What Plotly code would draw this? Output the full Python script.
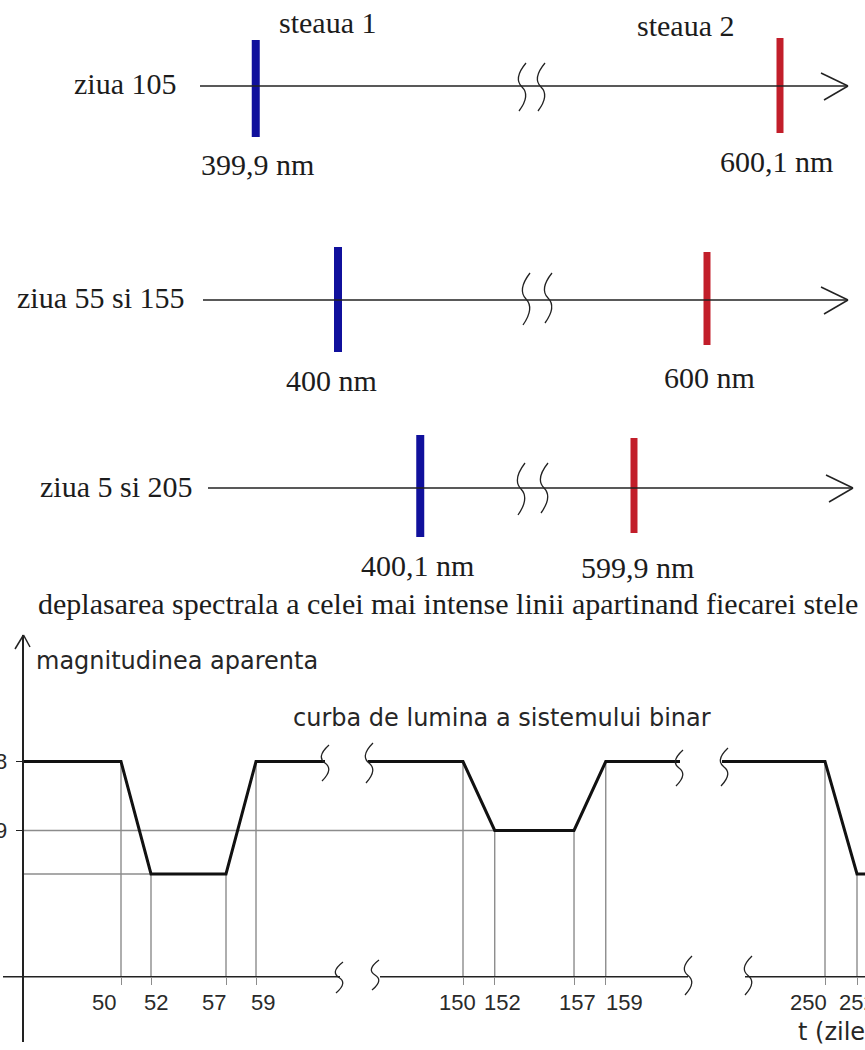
import plotly.graph_objects as go

W, H = 865, 1050

# ---------------- data ----------------
row_labels = ["ziua 105", "ziua 55 si 155", "ziua 5 si 205"]
star_names = ["steaua 1", "steaua 2"]
star1_nm = [399.9, 400.0, 400.1]
star2_nm = [600.1, 600.0, 599.9]
star1_text = ["399,9 nm", "400 nm", "400,1 nm"]
star2_text = ["600,1 nm", "600 nm", "599,9 nm"]
caption = "deplasarea spectrala a celei mai intense linii apartinand fiecarei stele"

t_days = [0, 50, 52, 57, 59, 150, 152, 157, 159, 250, 252, 257, 259, 300]
magnitude = [8.0, 8.0, 9.63, 9.63, 8.0, 8.0, 9.0, 9.0, 8.0, 8.0, 9.63, 9.63, 8.0, 8.0]
tick_days = [50, 52, 57, 59, 150, 152, 157, 159, 250, 252]
tick_text = ["50", "52", "57", "59", "150", "152", "157", "159", "250", "252"]
mag_ticks = [8, 9]
mag_tick_text = ["8", "9"]
y_title = "magnitudinea aparenta"
curve_title = "curba de lumina a sistemului binar"
x_title = "t (zile)"

# ---------------- layout constants (pixels of the reference) ----------------
def PX(x):
    return x / W


def PY(y):
    return 1 - y / H


SERIF = dict(family="Liberation Serif, Times New Roman, serif", size=30, color="#1c1c1c")
SANS = dict(family="DejaVu Sans, sans-serif", size=24, color="#262626")
SANS_NUM = dict(family="Liberation Sans, Arial, sans-serif", size=22, color="#2a2a2a")
BLUE = "#10109c"
RED = "#c21e2a"
INK = "#222222"
GUIDE = "#8c8c8c"

# top spectral panel: broken wavelength axis (two linear pieces)
BLUE_AX = dict(dom=(0, 540), scale=822.5, ref=(400.0, 338))
RED_AX = dict(dom=(540, 865), scale=730.0, ref=(600.0, 707))
TOP_DOM = (0, 620)
ROW_Y = [86, 300, 488]
ROW_X0 = [200, 203, 208]
ROW_TIP = [848, 848, 853]
BLUE_SPAN = [(40, 137), (247, 352), (435, 537)]
RED_SPAN = [(38, 133), (252, 345), (438, 533)]

# bottom light curve: broken time axis (three linear pieces)
SEGS = [
    dict(dom=(23.5, 325), scale=15.0, ref=(50, 121)),
    dict(dom=(368, 680), scale=15.86, ref=(150, 463)),
    dict(dom=(722, 865), scale=16.0, ref=(250, 825)),
]
MAG_DOM = (635, 1042)
MAG_REF = (8.0, 761.5)
MAG_SCALE = 69.0
AXIS_PY = 976.7
TICKLABEL_PY = 1002
# horizontal nudges of the hand-placed day labels (px)
TICKLABEL_SHIFT = [-17, 5, -12, 7, -6, 8, 3, 19, -17, 0]


def lin_range(d):
    v, p = d["ref"]
    return [v + (d["dom"][0] - p) / d["scale"], v + (d["dom"][1] - p) / d["scale"]]


def mag_at_py(y):
    return MAG_REF[0] + (y - MAG_REF[1]) / MAG_SCALE


AXIS_MAG = mag_at_py(AXIS_PY)


def seg_of(day):
    for i, s in enumerate(SEGS):
        r = lin_range(s)
        if r[0] <= day <= r[1]:
            return i
    return None


def day_to_paper(day):
    s = SEGS[seg_of(day)]
    r = lin_range(s)
    f = (day - r[0]) / (r[1] - r[0])
    return PX(s["dom"][0] + f * (s["dom"][1] - s["dom"][0]))


fig = go.Figure()

# ---------------- top: spectral lines ----------------
bx, by, rx, ry = [], [], [], []
for i in range(3):
    bx += [star1_nm[i], star1_nm[i], None]
    by += [BLUE_SPAN[i][0], BLUE_SPAN[i][1], None]
    rx += [star2_nm[i], star2_nm[i], None]
    ry += [RED_SPAN[i][0], RED_SPAN[i][1], None]

fig.add_trace(go.Scatter(x=bx, y=by, mode="lines", line=dict(color=BLUE, width=8),
                         xaxis="x", yaxis="y", hoverinfo="skip", showlegend=False))
fig.add_trace(go.Scatter(x=rx, y=ry, mode="lines", line=dict(color=RED, width=7),
                         xaxis="x2", yaxis="y", hoverinfo="skip", showlegend=False))

# ---------------- bottom: light curve ----------------
mag_of = dict(zip(t_days, magnitude))
axes_names = ["x3", "x4", "x5"]
for k, ax in enumerate(axes_names):
    gx, gy = [], []
    for d in tick_days:
        if seg_of(d) == k:
            gx += [d, d, None]
            gy += [mag_of[d], AXIS_MAG, None]
    fig.add_trace(go.Scatter(x=gx, y=gy, mode="lines", line=dict(color=GUIDE, width=1.4),
                             xaxis=ax, yaxis="y2", hoverinfo="skip", showlegend=False))

for k, ax in enumerate(axes_names):
    fig.add_trace(go.Scatter(x=t_days, y=magnitude, mode="lines",
                             line=dict(color="#111111", width=3),
                             xaxis=ax, yaxis="y2", hoverinfo="skip", showlegend=False))

# ---------------- axes ----------------
hidden = dict(visible=False, showgrid=False, zeroline=False, fixedrange=True, automargin=False)
fig.update_layout(
    xaxis=dict(domain=[PX(BLUE_AX["dom"][0]), PX(BLUE_AX["dom"][1])], range=lin_range(BLUE_AX),
               anchor="y", **hidden),
    xaxis2=dict(domain=[PX(RED_AX["dom"][0]), PX(RED_AX["dom"][1])], range=lin_range(RED_AX),
                anchor="y", **hidden),
    yaxis=dict(domain=[PY(TOP_DOM[1]), PY(TOP_DOM[0])], range=[TOP_DOM[1], TOP_DOM[0]],
               anchor="x", **hidden),
    yaxis2=dict(domain=[PY(MAG_DOM[1]), PY(MAG_DOM[0])],
                range=[mag_at_py(MAG_DOM[1]), mag_at_py(MAG_DOM[0])],
                anchor="x3", showline=True, linecolor=INK, linewidth=1.5,
                showgrid=False, zeroline=False, ticks="outside", ticklen=6, tickwidth=1.3,
                tickcolor=INK, tickvals=mag_ticks, ticktext=mag_tick_text,
                ticklabelstandoff=4, tickfont=SANS_NUM, fixedrange=True, automargin=False),
)
for k, ax in enumerate(axes_names):
    s = SEGS[k]
    vals = [d for d in tick_days if seg_of(d) == k]
    fig.layout["xaxis" + ax[1:]] = dict(
        domain=[PX(s["dom"][0]), PX(s["dom"][1])], range=lin_range(s),
        anchor="free", position=PY(AXIS_PY),
        showline=False, showgrid=False, zeroline=False, automargin=False,
        ticks="outside", ticklen=7, tickwidth=1.4, tickcolor=GUIDE,
        tickvals=vals, showticklabels=False, fixedrange=True)

# ---------------- decorations ----------------
shapes = []


def seg_line(x0, y0, x1, y1, color=INK, width=1.5):
    shapes.append(dict(type="line", xref="paper", yref="paper",
                       x0=PX(x0), y0=PY(y0), x1=PX(x1), y1=PY(y1),
                       line=dict(color=color, width=width)))


def squiggle(cx, top, bottom, width=1.3):
    h = bottom - top
    pts = [(cx + 4, top), (cx - 6, top + 0.25 * h), (cx - 5, top + 0.4 * h), (cx, top + 0.5 * h),
           (cx + 5, top + 0.6 * h), (cx + 6, top + 0.75 * h), (cx - 3, bottom)]
    p = "M {:.5f},{:.5f} C {:.5f},{:.5f} {:.5f},{:.5f} {:.5f},{:.5f} C {:.5f},{:.5f} {:.5f},{:.5f} {:.5f},{:.5f}".format(
        *[c for xy in pts for c in (PX(xy[0]), PY(xy[1]))])
    shapes.append(dict(type="path", xref="paper", yref="paper", path=p,
                       line=dict(color=INK, width=width)))


# spectral rows: axis lines + arrows + breaks
for i in range(3):
    y = ROW_Y[i]
    seg_line(ROW_X0[i], y, ROW_TIP[i], y)
    seg_line(ROW_TIP[i] - 27, y - 13, ROW_TIP[i], y)
    seg_line(ROW_TIP[i], y, ROW_TIP[i] - 24, y + 14)
squiggle(522, 63, 111)
squiggle(541, 63, 111)
squiggle(526, 273, 325)
squiggle(548, 273, 323)
squiggle(521, 463, 515)
squiggle(544, 463, 513)

# light curve: time axis pieces
for x0, x1 in [(3, 340), (380, 688), (745, 865)]:
    shapes.append(dict(type="line", xref="paper", yref="y2", x0=PX(x0), x1=PX(x1),
                       y0=AXIS_MAG, y1=AXIS_MAG, line=dict(color=INK, width=1.5)))
# y-axis arrow head
seg_line(15, 649, 23.5, 635)
seg_line(23.5, 635, 30, 647)
# horizontal guides at eclipse levels
shapes.append(dict(type="line", xref="paper", yref="y2", x0=PX(SEGS[0]["dom"][0]),
                   x1=day_to_paper(152), y0=mag_of[152], y1=mag_of[152],
                   line=dict(color=GUIDE, width=1.4), layer="below"))
shapes.append(dict(type="line", xref="paper", yref="y2", x0=PX(SEGS[0]["dom"][0]),
                   x1=day_to_paper(52), y0=mag_of[52], y1=mag_of[52],
                   line=dict(color=GUIDE, width=1.4), layer="below"))
# break marks
squiggle(325, 745, 781)
squiggle(369, 743, 783)
squiggle(679, 750, 786)
squiggle(724, 748, 786)
squiggle(339, 962, 993)
squiggle(375, 960, 990)
squiggle(688, 956, 995)
squiggle(748, 956, 995)

# ---------------- texts ----------------
ann = []


def text(s, x, y, font, xanchor="left"):
    ann.append(dict(text=s, x=PX(x), y=PY(y), xref="paper", yref="paper",
                    xanchor=xanchor, yanchor="middle", showarrow=False, font=font))


text(star_names[0], 277, 23, SERIF)
text(star_names[1], 635, 25, SERIF)
for i in range(3):
    text(row_labels[i], [178, 186, 194][i], ROW_Y[i] - 2, SERIF, xanchor="right")
text(star1_text[0], 199, 164, SERIF)
text(star2_text[0], 718, 161, SERIF)
text(star1_text[1], 284, 380, SERIF)
text(star2_text[1], 662, 377, SERIF)
text(star1_text[2], 359, 565, SERIF)
text(star2_text[2], 579, 567, SERIF)
text(caption, 36, 603, SERIF)

text(y_title, 34, 661, SANS)
text(curve_title, 291, 718, SANS)
text(x_title, 796, 1032, SANS)

# day labels, tied to the time axes
for d, lab, sh in zip(tick_days, tick_text, TICKLABEL_SHIFT):
    k = seg_of(d)
    ann.append(dict(text=lab, x=d, xref=axes_names[k], y=PY(TICKLABEL_PY), yref="paper",
                    xanchor="center", yanchor="middle", xshift=sh, showarrow=False,
                    font=SANS_NUM))

fig.update_layout(
    template="none",
    width=W, height=H, margin=dict(l=0, r=0, t=0, b=0, autoexpand=False),
    paper_bgcolor="white", plot_bgcolor="rgba(0,0,0,0)",
    shapes=shapes, annotations=ann, showlegend=False,
)

fig.write_html("out.html", config={"displayModeBar": False},
               post_script="document.body.style.margin='0';")
